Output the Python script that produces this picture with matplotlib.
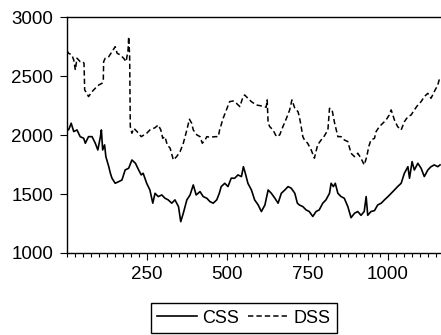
import matplotlib
matplotlib.use('Agg')
import matplotlib.pyplot as plt
from matplotlib.ticker import MultipleLocator, FixedLocator

dss_idx = [1, 6, 16, 22, 27, 32, 42, 50, 54, 56, 63, 68, 79, 89, 100, 110, 114, 115, 120, 131,
           141, 151, 157, 167, 177, 185, 191, 193, 196, 198, 203, 209, 219, 232, 249, 259, 275, 285, 293, 299,
           306, 313, 322, 332, 342, 353, 363, 374, 382, 389, 394, 405, 415, 422, 431, 436, 446, 462, 472, 476,
           487, 497, 507, 518, 528, 539, 549, 554, 564, 575, 590, 606, 621, 624, 627, 632, 642, 653, 663, 673,
           684, 694, 701, 710, 720, 724, 729, 735, 740, 750, 761, 771, 781, 792, 802, 813, 818, 826, 833, 844,
           854, 864, 875, 885, 896, 906, 916, 926, 934, 940, 947, 958, 963, 973, 984, 994, 1004, 1010, 1020, 1030,
           1041, 1051, 1062, 1072, 1082, 1093, 1103, 1113, 1124, 1134, 1144, 1155, 1162]
dss_val = [2718, 2696, 2682, 2639, 2554, 2654, 2625, 2625, 2611, 2384, 2356, 2328, 2370, 2399, 2427, 2441, 2469, 2625, 2654, 2667,
           2710, 2752, 2696, 2682, 2654, 2625, 2724, 2837, 2667, 2073, 2017, 2059, 2031, 1988, 2017, 2045, 2064, 2087, 2045, 1974,
           1988, 1918, 1890, 1790, 1818, 1861, 1932, 2045, 2136, 2102, 2045, 2003, 1988, 1932, 1960, 1988, 1983, 1988, 1988, 2045,
           2144, 2215, 2285, 2291, 2272, 2243, 2328, 2342, 2314, 2285, 2257, 2249, 2238, 2300, 2102, 2073, 2045, 1988, 2003, 2073,
           2144, 2215, 2300, 2229, 2200, 2158, 2087, 1988, 1960, 1932, 1875, 1805, 1918, 1960, 1994, 2045, 2229, 2215, 2115, 1988,
           1988, 1960, 1946, 1847, 1818, 1847, 1805, 1748, 1818, 1903, 1960, 1974, 2031, 2073, 2102, 2130, 2172, 2215, 2130, 2073,
           2045, 2115, 2158, 2172, 2215, 2257, 2285, 2328, 2356, 2314, 2370, 2427, 2497]

css_idx = [1, 6, 14, 22, 32, 42, 53, 58, 68, 79, 89, 97, 105, 108, 112, 118, 122, 131, 136, 141,
           151, 162, 172, 182, 193, 203, 214, 224, 232, 238, 249, 259, 268, 275, 285, 296, 306, 316, 327, 337,
           348, 355, 363, 374, 384, 394, 403, 415, 425, 436, 446, 456, 467, 475, 481, 492, 502, 512, 523, 533,
           544, 550, 556, 564, 575, 585, 596, 606, 617, 627, 637, 648, 658, 668, 679, 689, 699, 710, 718, 724,
           735, 745, 755, 766, 776, 786, 797, 807, 818, 823, 830, 836, 844, 854, 864, 875, 885, 896, 906, 916,
           926, 932, 937, 947, 958, 968, 979, 989, 1000, 1010, 1020, 1030, 1041, 1051, 1062, 1067, 1075, 1082, 1093, 1103,
           1113, 1124, 1134, 1144, 1155, 1162]
css_val = [2059, 2045, 2102, 2031, 2045, 1988, 1974, 1932, 1988, 1988, 1932, 1875, 1988, 2045, 1875, 1918, 1818, 1733, 1677, 1635,
           1592, 1606, 1620, 1705, 1720, 1790, 1762, 1705, 1663, 1677, 1592, 1535, 1423, 1507, 1479, 1493, 1465, 1451, 1423, 1451,
           1394, 1266, 1338, 1451, 1493, 1578, 1493, 1521, 1479, 1465, 1436, 1423, 1451, 1507, 1564, 1592, 1564, 1635, 1635, 1663,
           1649, 1733, 1677, 1592, 1535, 1451, 1408, 1352, 1408, 1535, 1507, 1465, 1423, 1507, 1535, 1564, 1550, 1507, 1423, 1408,
           1394, 1366, 1352, 1310, 1352, 1366, 1423, 1451, 1507, 1592, 1564, 1592, 1507, 1479, 1465, 1394, 1300, 1338, 1352, 1320,
           1352, 1479, 1320, 1352, 1360, 1408, 1423, 1451, 1479, 1507, 1535, 1564, 1592, 1677, 1733, 1635, 1776, 1705, 1762, 1720,
           1649, 1705, 1733, 1748, 1733, 1748]

x_ticks = [250, 500, 750, 1000]
y_ticks = [1000, 1500, 2000, 2500, 3000]

plt.rcParams['font.family'] = ['Liberation Sans', 'DejaVu Sans']
plt.rcParams['font.size'] = 13.5

fig = plt.figure(figsize=(4.41, 3.35), dpi=100)
ax = fig.add_axes([0.1512, 0.2448, 0.8488, 0.703])

ax.plot(css_idx, css_val, color='black', lw=1.2, label='CSS')
ax.plot(dss_idx, dss_val, color='black', lw=1.1, dashes=(3.5, 2), label='DSS')

ax.set_xlim(0, 1165)
ax.set_ylim(1000, 3000)
ax.xaxis.set_major_locator(FixedLocator(x_ticks))
ax.xaxis.set_minor_locator(MultipleLocator(25))
ax.yaxis.set_major_locator(FixedLocator(y_ticks))

ax.spines['right'].set_visible(False)
for s in ['left', 'top', 'bottom']:
    ax.spines[s].set_linewidth(1.0)

ax.tick_params(axis='both', which='major', direction='out', length=5, width=0.8, pad=4.5)
ax.tick_params(axis='x', which='minor', direction='out', length=3, width=0.8)
ax.tick_params(top=False, right=False)

leg = fig.legend(loc='upper left', bbox_to_anchor=(150.7 / 441, 1 - 303.3 / 335),
                 ncol=2, frameon=True, fancybox=False, framealpha=1, edgecolor='black',
                 fontsize=13, handlelength=2.2, handletextpad=0.3, columnspacing=0.5,
                 borderaxespad=0, borderpad=0.35)
leg.get_frame().set_linewidth(1.0)

plt.savefig('out.png', dpi=100)
